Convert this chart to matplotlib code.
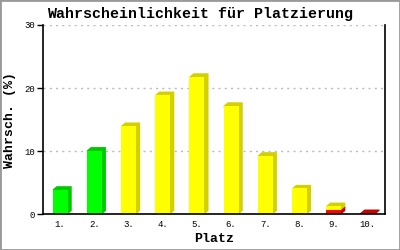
import matplotlib
matplotlib.use("Agg")
import matplotlib.pyplot as plt
from matplotlib.patches import Polygon, Rectangle

# values (percent)
places = ["1.", "2.", "3.", "4.", "5.", "6.", "7.", "8.", "9.", "10."]
green = [3.9, 10.1, 0, 0, 0, 0, 0, 0, 0, 0]
yellow = [0, 0, 14.0, 18.9, 21.8, 17.2, 9.3, 4.1, 0.6, 0]
red = [0, 0, 0, 0, 0, 0, 0, 0, 0.7, 0.2]

series = [
    (green, "#00ff00", "#00c800"),
    (yellow, "#ffff00", "#d2d000"),
    (red, "#ff0000", "#c80000"),
]
# stacking order bottom -> top for each bar
stack_order = [series[2], series[0], series[1]]

MONO = ["Liberation Mono", "DejaVu Sans Mono"]

fig = plt.figure(figsize=(4, 2.5), dpi=100)
fig.patches.append(Rectangle((0, 0), 1, 1, transform=fig.transFigure,
                             fill=False, edgecolor="#999999", linewidth=2))
ax = fig.add_axes([0.1075, 0.143, 0.855, 0.757])

width = 0.44
dx = 0.12   # depth in x (data units)
dy = 0.55   # depth in y (data units)

for i in range(len(places)):
    x0 = i + 1 - width / 2
    x1 = i + 1 + width / 2
    bottom = 0
    for values, front, side in stack_order:
        v = values[i]
        if v <= 0:
            continue
        top = bottom + v
        ax.add_patch(Polygon([(x0, top), (x0 + dx, top + dy), (x1 + dx, top + dy),
                              (x1 + dx, bottom + dy), (x1, bottom)],
                             closed=True, facecolor=side, edgecolor="none", zorder=3))
        ax.add_patch(Rectangle((x0, bottom), width, v, facecolor=front,
                               edgecolor="none", zorder=4))
        bottom = top

ax.set_xlim(0.5, 10.5)
ax.set_ylim(0, 30)
ax.set_yticks([0, 10, 20, 30])
ax.set_xticks(range(1, len(places) + 1))
ax.set_xticklabels(places)
ax.tick_params(axis="x", length=0, pad=4, labelsize=6.5)
ax.tick_params(axis="y", length=4, width=1, direction="out", pad=2, labelsize=6.5)
for lab in ax.get_xticklabels() + ax.get_yticklabels():
    lab.set_family(MONO)

for val in [10, 20, 30]:
    ax.axhline(val, color="#bbbbbb", linestyle=(0, (1.5, 3)), linewidth=1, zorder=1)

ax.spines["top"].set_visible(False)
for s in ["left", "bottom", "right"]:
    ax.spines[s].set_linewidth(1.2)
    ax.spines[s].set_zorder(5)

fig.text(0.5, 0.944, "Wahrscheinlichkeit für Platzierung", family=MONO,
         fontweight="bold", fontsize=10.8, ha="center", va="center")
ax.set_xlabel("Platz", family=MONO, fontweight="bold", fontsize=9.5, labelpad=3)
ax.set_ylabel("Wahrsch. (%)", family=MONO, fontweight="bold", fontsize=9.5, labelpad=6)

fig.savefig("out.png", dpi=100)
